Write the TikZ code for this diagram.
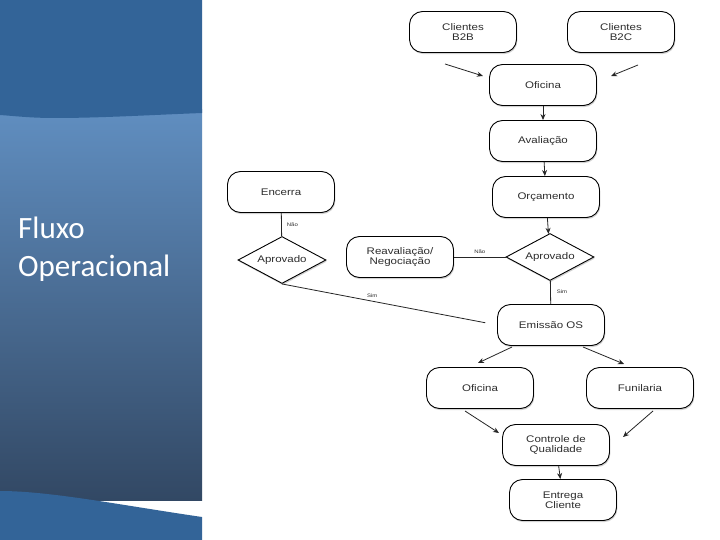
\documentclass[tikz,border=0pt]{standalone}
\usepackage{fontspec}
\setmainfont{Liberation Sans}
\newfontfamily\titlefont{Carlito}
\newfontfamily\boxfont[FakeStretch=1.2]{Liberation Sans}
\usetikzlibrary{shapes.geometric,shadows,arrows.meta}
\definecolor{bandblue}{RGB}{51,100,152}
\definecolor{gradtop}{RGB}{96,142,192}
\definecolor{gradbot}{RGB}{50,72,100}
\definecolor{txtgray}{RGB}{45,45,45}
\tikzset{
  flowbox/.style={draw=black, line width=0.9pt, rounded corners=13pt, fill=white,
    minimum width=107pt, minimum height=41pt, inner sep=0pt, align=center,
    text=txtgray, font=\boxfont\fontsize{9.6}{10.5}\selectfont,
    drop shadow={shadow xshift=0.8pt, shadow yshift=-1.6pt, opacity=0.35}},
  decision/.style={diamond, draw=black, line width=0.9pt, fill=white, aspect=1.85,
    minimum width=88pt, minimum height=47pt, inner sep=0pt,
    text=txtgray, font=\boxfont\fontsize{9.6}{10.5}\selectfont,
    drop shadow={shadow xshift=0.8pt, shadow yshift=-1.6pt, opacity=0.35}},
  link/.style={draw=black!85, line width=0.8pt},
  flowarrow/.style={link, -{Stealth[length=6pt,width=5pt]}},
  tinylabel/.style={font=\boxfont\fontsize{5}{6}\selectfont, text=txtgray, inner sep=0pt},
  paneltitle/.style={font=\titlefont\fontsize{31}{36}\selectfont, text=white, inner sep=0pt, anchor=base west}
}
\begin{document}
\begin{tikzpicture}[x=1pt,y=-1pt]
\useasboundingbox (0,0) rectangle (720,540);
\fill[white] (0,0) rectangle (720,540);
% left panel
\shade[top color=gradtop, bottom color=gradbot] (0,110) rectangle (202,500);
\fill[bandblue] (0,0) -- (202,0) -- (202,113) .. controls (150,115) and (100,118) .. (55,118) .. controls (30,118) and (15,116) .. (0,115) -- cycle;
\fill[bandblue] (0,491) .. controls (50,491) and (120,505) .. (202,517) -- (202,540) -- (0,540) -- cycle;
\node[paneltitle] (t1) at (18,238) {Fluxo};
\node[paneltitle] (t2) at (18,276) {Operacional};

% nodes
\node[flowbox] (b2b) at (463,32) {Clientes\\B2B};
\node[flowbox] (b2c) at (621,32) {Clientes\\B2C};
\node[flowbox] (of1) at (543,85) {Oficina};
\node[flowbox] (aval) at (543,141) {Avaliação};
\node[flowbox] (orc) at (546,197) {Orçamento};
\node[decision] (apr) at (550,257) {Aprovado};
\node[flowbox] (reav) at (400,257) {Reavaliação/\\Negociação};
\node[flowbox] (enc) at (281,192) {Encerra};
\node[decision] (apl) at (282,260) {Aprovado};
\node[flowbox] (emis) at (551,325) {Emissão OS};
\node[flowbox] (of2) at (480,388) {Oficina};
\node[flowbox] (fun) at (640,388) {Funilaria};
\node[flowbox] (cq) at (556,445) {Controle de\\Qualidade};
\node[flowbox] (ent) at (563,500) {Entrega\\Cliente};

% free ends
\coordinate (b2bs) at (445,64);
\coordinate (b2be) at (483,76);
\coordinate (b2cs) at (638,65);
\coordinate (b2ce) at (611,76);
\coordinate (e1s) at (512,347);
\coordinate (e1e) at (478,363);
\coordinate (e2s) at (583,347);
\coordinate (e2e) at (624,364);
\coordinate (o2s) at (465,411);
\coordinate (o2e) at (499,433);
\coordinate (f2s) at (653,411);
\coordinate (f2e) at (623,437);

% connectors
\draw[flowarrow] (b2bs) -- (b2be);
\draw[flowarrow] (b2cs) -- (b2ce);
\draw[flowarrow] (of1) -- (aval);
\draw[flowarrow] (aval) -- (orc);
\draw[flowarrow] (orc) -- (apr);
\draw[link] (apr) -- (reav) node[tinylabel, pos=0.5, above=3pt] {Não};
\draw[link] (apr) -- (emis) node[tinylabel, pos=0.45, right=6pt] {Sim};
\draw[link] (enc) -- (apl) node[tinylabel, pos=0.5, right=5pt] {Não};
\draw[link, shorten >=12pt] (apl.south) -- (emis.west) node[tinylabel, pos=0.42, above=3pt] {Sim};
\draw[flowarrow] (e1s) -- (e1e);
\draw[flowarrow] (e2s) -- (e2e);
\draw[flowarrow] (o2s) -- (o2e);
\draw[flowarrow] (f2s) -- (f2e);
\draw[flowarrow] (cq) -- (ent);
\end{tikzpicture}
\end{document}
